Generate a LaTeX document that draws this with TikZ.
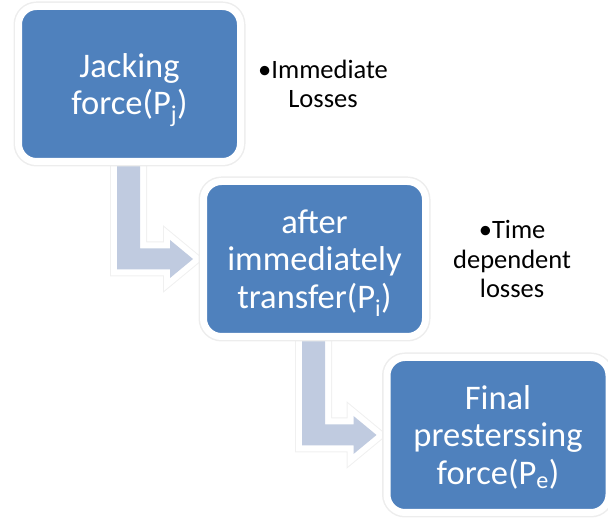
\documentclass[tikz,border=0pt]{standalone}
\usepackage{fontspec}
\setmainfont{Carlito}
\usetikzlibrary{positioning,calc,backgrounds}
\definecolor{boxblue}{RGB}{79,129,189}
\definecolor{arrowfill}{RGB}{192,203,224}
\tikzset{
  stagebox/.style={fill=boxblue, draw=white, line width=7pt, rounded corners=18pt,
    minimum width=222pt, minimum height=155pt, text=white, align=center,
    text depth=0pt, font=\fontsize{34.5}{37.5}\selectfont,
    preaction={draw=black!7, line width=10pt}},
  losslabel/.style={align=center, inner sep=0pt, font=\fontsize{26.5}{29.5}\selectfont},
  bentarrow/.style={draw=white, line width=12pt, line join=miter,
    preaction={draw=black!6, line width=14pt}, postaction={fill=arrowfill}}
}
%% bent arrow from box #1 down and right into box #2
\newcommand\bentarrow[2]{%
  \coordinate (k) at (#1.south |- #2.west);
  \path[bentarrow] ($(#1.south)+(-12.5,20)$) -- ($(k)+(-12.5,-10.5)$)
    -- ($(#2.west)+(-30,-10.5)$) -- ($(#2.west)+(-30,-19)$) -- ($(#2.west)+(-7,0)$)
    -- ($(#2.west)+(-30,19)$) -- ($(#2.west)+(-30,10.5)$) -- ($(k)+(10.5,10.5)$)
    -- ($(#1.south)+(10.5,20)$) -- cycle;}
\begin{document}
\begin{tikzpicture}[x=1pt, y=1pt]
  \useasboundingbox (0,0) rectangle (608,521);
  %% the three stages
  \node[stagebox] (jack) at (129.5,437) {Jacking\\force(P\textsubscript{j})};
  \node[stagebox] (after) at (314.5,262) {after\\immediately\\transfer(P\textsubscript{i})};
  \node[stagebox] (final) at (498,86) {Final\\presterssing\\force(P\textsubscript{e})};
  %% losses
  \node[losslabel, right=14 of jack] (imm) {\textbullet Immediate\\Losses};
  \node[losslabel, right=24 of after] (time) {\textbullet Time\\dependent\\losses};
  %% arrows
  \begin{scope}[on background layer]
    \bentarrow{jack}{after}
    \bentarrow{after}{final}
  \end{scope}
\end{tikzpicture}
\end{document}
